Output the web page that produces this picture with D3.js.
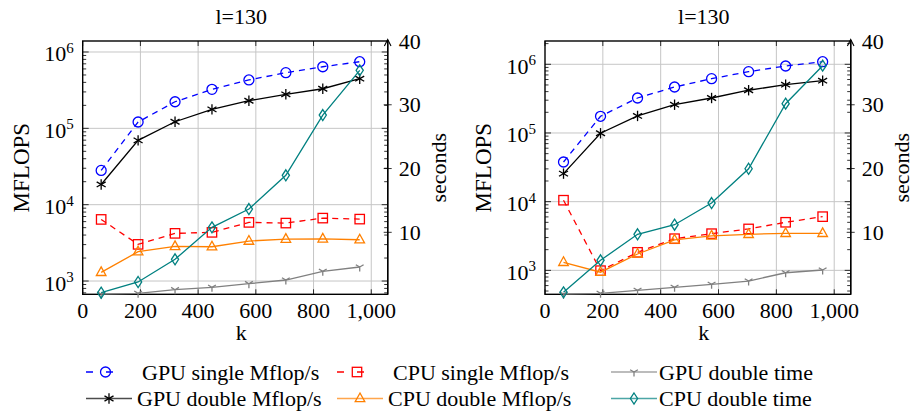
<!DOCTYPE html>
<html>
<head>
<meta charset="utf-8">
<script src="https://cdn.jsdelivr.net/npm/d3@7"></script>
<style>
    body { margin: 0; background: #fff; }
    svg { display: block; font-family: "Liberation Serif", "DejaVu Serif", serif; }
</style>
</head>
<body>
<svg id="chart" width="913" height="414"></svg>
<script>
// k values shared by both panels
const kValues = [64, 192, 320, 448, 576, 704, 832, 960];
const xTicks = [0, 200, 400, 600, 800, 1000];
const secondTicks = [10, 20, 30, 40];
const titles = ["l=130", "l=130"];

// left panel, MFLOPS (log axis)
const gpuSingleA = [28100, 121000, 223000, 324000, 430000, 536000, 641000, 746000];
const cpuSingleA = [6410, 3020, 4210, 4340, 5860, 5740, 6670, 6470];
const gpuDoubleA = [18400, 69600, 122000, 177000, 230000, 279000, 330000, 447000];
const cpuDoubleA = [1300, 2420, 2840, 2810, 3340, 3540, 3570, 3470];
// left panel, seconds
const gpuTimeA = [0.3, 0.43, 1.0, 1.37, 1.94, 2.52, 3.88, 4.56];
const cpuTimeA = [0.53, 2.21, 5.77, 10.78, 13.65, 18.94, 28.39, 35.4];

// right panel, MFLOPS (log axis)
const gpuSingleB = [37800, 175000, 323000, 467000, 617000, 780000, 945000, 1090000];
const cpuSingleB = [10500, 990, 1830, 2890, 3420, 4010, 5010, 6050];
const gpuDoubleB = [25600, 99000, 177000, 258000, 323000, 419000, 505000, 577000];
const cpuDoubleB = [1310, 940, 1730, 2770, 3170, 3350, 3460, 3460];
// right panel, seconds
const gpuTimeB = [0.3, 0.43, 0.9, 1.37, 1.85, 2.36, 3.66, 4.09];
const cpuTimeB = [0.59, 5.61, 9.69, 11.19, 14.59, 19.97, 30.17, 36.13];

const seriesStyle = {
    gpuSingle: { label: "GPU single Mflop/s", color: "#0000ff", dash: "6,5", mark: "circle" },
    cpuSingle: { label: "CPU single Mflop/s", color: "#ff0000", dash: "6,5", mark: "square" },
    gpuDouble: { label: "GPU double Mflop/s", color: "#000000", dash: null, mark: "asterisk" },
    cpuDouble: { label: "CPU double Mflop/s", color: "#ff8000", dash: null, mark: "triangle" },
    gpuTime: { label: "GPU double time", color: "#808080", dash: null, mark: "ystar" },
    cpuTime: { label: "CPU double time", color: "#008080", dash: null, mark: "diamond" }
};

const panels = [
    {
        x0: 82.7, x1: 387.7, title: titles[0], logDomain: [670, 1393000],
        left: { gpuSingle: gpuSingleA, cpuSingle: cpuSingleA, gpuDouble: gpuDoubleA, cpuDouble: cpuDoubleA },
        right: { gpuTime: gpuTimeA, cpuTime: cpuTimeA }
    },
    {
        x0: 545, x1: 850.7, title: titles[1], logDomain: [448, 2183000],
        left: { gpuSingle: gpuSingleB, cpuSingle: cpuSingleB, gpuDouble: gpuDoubleB, cpuDouble: cpuDoubleB },
        right: { gpuTime: gpuTimeB, cpuTime: cpuTimeB }
    }
];

const plotTop = 41;
const plotBottom = 294.3;
const gridColor = "#c6c6c6";
const svg = d3.select("#chart");

function drawMark(g, type, x, y, color) {
    const m = g.append("g").attr("transform", `translate(${x},${y})`)
        .attr("fill", "none").attr("stroke", color).attr("stroke-width", 1.3);
    if (type === "circle") {
        m.append("circle").attr("r", 5);
    } else if (type === "square") {
        m.append("rect").attr("x", -4.7).attr("y", -4.7).attr("width", 9.4).attr("height", 9.4);
    } else if (type === "asterisk") {
        [90, 30, 150].forEach(a => {
            const r = a * Math.PI / 180;
            m.append("line")
                .attr("x1", Math.cos(r) * 5.2).attr("y1", Math.sin(r) * 5.2)
                .attr("x2", -Math.cos(r) * 5.2).attr("y2", -Math.sin(r) * 5.2);
        });
    } else if (type === "triangle") {
        m.append("path").attr("d", "M0,-5.5L4.8,3.2L-4.8,3.2Z");
    } else if (type === "diamond") {
        m.append("path").attr("d", "M0,-5.5L3.6,0L0,5.5L-3.6,0Z");
    } else if (type === "ystar") {
        m.append("path").attr("d", "M0,0L0,4.5M0,0L-3.9,-2.3M0,0L3.9,-2.3");
    }
}

function drawSeries(g, key, values, x, y) {
    const st = seriesStyle[key];
    const line = d3.line().x((d, i) => x(kValues[i])).y(d => y(d));
    g.append("path")
        .attr("d", line(values))
        .attr("fill", "none")
        .attr("stroke", st.color)
        .attr("stroke-width", 1.3)
        .attr("stroke-dasharray", st.dash);
    values.forEach((v, i) => drawMark(g, st.mark, x(kValues[i]), y(v), st.color));
}

panels.forEach(p => {
    const g = svg.append("g");
    const x = d3.scaleLinear().domain([0, 1057]).range([p.x0, p.x1]);
    const y = d3.scaleLog().domain(p.logDomain).range([plotBottom, plotTop]);
    const y2 = d3.scaleLinear().domain([0.28, 40]).range([plotBottom, plotTop]);
    const decades = [1e3, 1e4, 1e5, 1e6].filter(d => y(d) >= plotTop && y(d) <= plotBottom);
    const minors = [];
    [100, 1000, 10000, 100000, 1000000].forEach(base => {
        for (let m = 2; m <= 9; m += 1) {
            const v = base * m;
            if (v >= p.logDomain[0] && v <= p.logDomain[1]) minors.push(v);
        }
    });

    // grid
    g.selectAll(".vgrid").data(xTicks.filter(d => d > 0)).join("line")
        .attr("x1", d => x(d)).attr("x2", d => x(d))
        .attr("y1", plotTop).attr("y2", plotBottom)
        .attr("stroke", gridColor).attr("stroke-width", 1);
    g.selectAll(".hgrid").data(decades).join("line")
        .attr("x1", p.x0).attr("x2", p.x1)
        .attr("y1", d => y(d)).attr("y2", d => y(d))
        .attr("stroke", gridColor).attr("stroke-width", 1);

    // ticks inside the frame
    const ticks = g.append("g").attr("stroke", "#000").attr("stroke-width", 0.8);
    minors.forEach(v => {
        ticks.append("line").attr("x1", p.x0).attr("x2", p.x0 + 3.5).attr("y1", y(v)).attr("y2", y(v));
        ticks.append("line").attr("x1", p.x1).attr("x2", p.x1 - 3.5).attr("y1", y(v)).attr("y2", y(v));
    });
    decades.forEach(v => {
        ticks.append("line").attr("x1", p.x0).attr("x2", p.x0 + 6).attr("y1", y(v)).attr("y2", y(v));
        ticks.append("line").attr("x1", p.x1).attr("x2", p.x1 - 6).attr("y1", y(v)).attr("y2", y(v));
    });
    xTicks.forEach(v => {
        ticks.append("line").attr("x1", x(v)).attr("x2", x(v)).attr("y1", plotBottom).attr("y2", plotBottom - 5);
        ticks.append("line").attr("x1", x(v)).attr("x2", x(v)).attr("y1", plotTop).attr("y2", plotTop + 5);
    });

    // frame
    g.append("rect")
        .attr("x", p.x0).attr("y", plotTop)
        .attr("width", p.x1 - p.x0).attr("height", plotBottom - plotTop)
        .attr("fill", "none").attr("stroke", "#000").attr("stroke-width", 1.4);

    // series on the MFLOPS axis, then the seconds axis
    Object.keys(p.left).forEach(key => drawSeries(g, key, p.left[key], x, y));
    Object.keys(p.right).forEach(key => drawSeries(g, key, p.right[key], x, y2));

    // right seconds axis with arrow
    g.append("line").attr("x1", p.x1).attr("x2", p.x1).attr("y1", plotBottom).attr("y2", plotTop - 1)
        .attr("stroke", "#000").attr("stroke-width", 1.4);
    g.append("path")
        .attr("d", `M${p.x1 - 3.3},${plotTop + 5}L${p.x1},${plotTop - 1.5}L${p.x1 + 3.3},${plotTop + 5}`)
        .attr("fill", "none").attr("stroke", "#000").attr("stroke-width", 1.1);
    secondTicks.filter(d => d < 40).forEach(v => {
        g.append("line").attr("x1", p.x1 - 4).attr("x2", p.x1 + 4)
            .attr("y1", y2(v)).attr("y2", y2(v))
            .attr("stroke", "#000").attr("stroke-width", 0.8);
    });

    // labels
    const txt = g.append("g").attr("font-size", 22).attr("fill", "#000");
    xTicks.forEach(v => {
        txt.append("text").attr("x", x(v)).attr("y", 317.5)
            .attr("text-anchor", "middle").text(d3.format(",")(v));
    });
    decades.forEach(v => {
        const t = txt.append("text").attr("x", p.x0 - 9).attr("y", y(v) + 9.5).attr("text-anchor", "end");
        t.append("tspan").text("10");
        t.append("tspan").attr("dy", -8.5).attr("font-size", 15).text(Math.round(Math.log10(v)));
    });
    secondTicks.forEach(v => {
        txt.append("text").attr("x", p.x1 + 11).attr("y", y2(v) + 7.5).text(v);
    });
    const cx = (p.x0 + p.x1) / 2 + 6;
    txt.append("text").attr("x", cx).attr("y", 24).attr("text-anchor", "middle").text(p.title);
    txt.append("text").attr("x", cx).attr("y", 340).attr("text-anchor", "middle").text("k");
    txt.append("text")
        .attr("transform", `translate(${p.x0 - 54},${(plotTop + plotBottom) / 2}) rotate(-90)`)
        .attr("text-anchor", "middle").attr("font-size", 23).text("MFLOPS");
    txt.append("text")
        .attr("transform", `translate(${p.x1 + 58.5},${(plotTop + plotBottom) / 2}) rotate(-90)`)
        .attr("text-anchor", "middle").attr("font-size", 22).text("seconds");
});

// legend
const legendItems = [
    { key: "gpuSingle", lx: 86, lw: 39, tx: 142, row: 0 },
    { key: "cpuSingle", lx: 337, lw: 40, tx: 393, row: 0 },
    { key: "gpuTime", lx: 611, lw: 46, tx: 659, row: 0 },
    { key: "gpuDouble", lx: 86, lw: 46, tx: 137, row: 1 },
    { key: "cpuDouble", lx: 337, lw: 46, tx: 388, row: 1 },
    { key: "cpuTime", lx: 611, lw: 46, tx: 659, row: 1 }
];
const legend = svg.append("g");
legendItems.forEach(item => {
    const st = seriesStyle[item.key];
    const ly = item.row === 0 ? 372 : 398.5;
    legend.append("line")
        .attr("x1", item.lx).attr("x2", item.lx + item.lw)
        .attr("y1", ly).attr("y2", ly)
        .attr("stroke", st.color).attr("stroke-width", 1.6)
        .attr("stroke-opacity", st.dash ? 1 : 0.7)
        .attr("stroke-dasharray", st.dash ? "7,13" : null);
    drawMark(legend, st.mark, item.lx + item.lw / 2, ly, st.color);
    legend.append("text")
        .attr("x", item.tx).attr("y", ly + 7.5)
        .attr("font-size", 22)
        .text(st.label);
});
</script>
</body>
</html>
